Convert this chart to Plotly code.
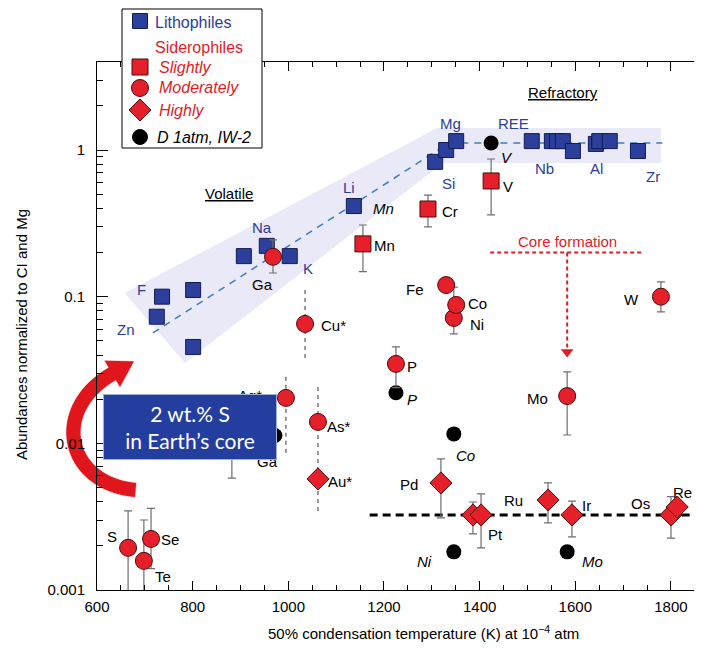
import numpy as np
import plotly.graph_objects as go

# ---------------- data ----------------
# Lithophiles (blue squares)
litho_T = [725, 736, 801, 801, 907, 955, 1003, 1137, 1307, 1330, 1351,
           1509, 1551, 1562, 1574, 1595, 1643, 1650, 1672, 1731]
litho_A = [0.073, 0.100, 0.111, 0.0454, 0.189, 0.222, 0.189, 0.415, 0.83, 1.0, 1.15,
           1.15, 1.15, 1.15, 1.15, 0.984, 1.10, 1.15, 1.15, 0.984]

# Slightly siderophile (red squares)
slight_names = ["Mn", "Cr", "V"]
slight_T = [1156, 1292, 1424]
slight_A = [0.229, 0.396, 0.615]
slight_hi = [0.308, 0.493, 0.868]
slight_lo = [0.148, 0.299, 0.361]

# Moderately siderophile (red circles)
mod_names = ["Hidden", "Ga", "Ag*", "Cu*", "As*", "S", "Se", "Te", "Fe", "Ni", "Co", "P", "Mo", "W"]
mod_T = [882, 968, 995, 1035, 1062, 665, 713, 698, 1330, 1346, 1351, 1225, 1583, 1779]
mod_A = [0.012, 0.187, 0.0204, 0.0652, 0.014, 0.00194, 0.00223, 0.00158, 0.120, 0.0716, 0.0878, 0.0348, 0.021, 0.100]
mod_hi = [0.018, 0.244, None, None, None, 0.00346, 0.0036, 0.0030, None, 0.116, None, 0.0454, 0.0307, 0.126]
mod_lo = [0.0058, 0.145, None, None, None, 0.0008, 0.0014, 0.0008, None, 0.0557, None, 0.024, 0.0114, 0.0787]

# Highly siderophile (red diamonds)
high_names = ["Au*", "Pd", "Pt", "Pt", "Ru", "Ir", "Os", "Re"]
high_T = [1062, 1319, 1386, 1403, 1543, 1593, 1800, 1813]
high_A = [0.00572, 0.00537, 0.00325, 0.00325, 0.00411, 0.00325, 0.00325, 0.00368]
high_hi = [None, 0.00783, 0.00398, 0.00452, 0.00537, 0.00404, 0.00433, None]
high_lo = [None, 0.0031, 0.00241, 0.00194, 0.00287, 0.0023, 0.00226, None]

# D 1atm, IW-2 (black circles)
d_names = ["V", "P", "Co", "Ni", "Mo", "Ga"]
d_T = [1424, 1225, 1346, 1346, 1583, 972]
d_A = [1.116, 0.0221, 0.0116, 0.00182, 0.00182, 0.0113]

# dashed ranges (Ag*, Cu*, As*/Au*)
range_T = [995, 1035, 1062]
range_hi = [0.0284, 0.111, 0.0242]
range_lo = [0.0086, 0.037, 0.0034]

# volatility trend (blue dashed) and shaded band
trend_T = [717, 1336, 1782]
trend_A = [0.0566, 1.116, 1.116]
band_T = [658, 1311, 1779, 1779, 1323, 784]
band_A = [0.106, 1.413, 1.413, 0.815, 0.815, 0.0353]

# HSE level (black dashed)
hse_T = [1170, 1850]
hse_A = [0.00325, 0.00325]

# core formation arrow
core_T = [1422, 1741]
core_A = [0.2, 0.2]
core_v_T = [1583, 1583]
core_v_A = [0.2, 0.040]
core_tip_A = [0.042]

# label texts: (text, T, A, dx px, dy px, colour key)
labels = [
    ("Zn", 725, 0.073, -31, 13, "b"), ("F", 736, 0.100, -21, -7, "b"),
    ("Na", 955, 0.222, -5, -18, "b"), ("K", 1003, 0.189, 18, 12, "b"),
    ("Li", 1137, 0.415, -5, -19, "b"), ("Si", 1307, 0.83, 13, 22, "b"),
    ("Mg", 1351, 1.15, -6, -18, "b"), ("REE", 1424, 1.116, 22, -20, "b"),
    ("Nb", 1574, 1.15, -18, 27, "b"), ("Al", 1643, 1.10, 1, 25, "b"),
    ("Zr", 1731, 0.984, 15, 25, "b"),
    ("Ga", 968, 0.187, -11, 28, "k"), ("Mn", 1156, 0.229, 22, 2, "k"),
    ("Cr", 1292, 0.396, 22, 2, "k"), ("V", 1424, 0.615, 17, 6, "k"),
    ("<i>V</i>", 1424, 1.116, 16, 14, "k"), ("<i>Mn</i>", 1137, 0.415, 30, 2, "k"),
    ("Cu*", 1035, 0.0652, 28, 2, "k"), ("Fe", 1330, 0.120, -31, 4, "k"),
    ("Co", 1351, 0.0878, 21, -1, "k"), ("Ni", 1346, 0.0716, 23, 7, "k"),
    ("W", 1779, 0.100, -29, 3, "k"), ("P", 1225, 0.0348, 16, 3, "k"),
    ("<i>P</i>", 1225, 0.0221, 16, 7, "k"), ("Mo", 1583, 0.021, -30, 2, "k"),
    ("<i>Co</i>", 1346, 0.0116, 12, 22, "k"), ("<i>Ni</i>", 1346, 0.00182, -29, 10, "k"),
    ("<i>Mo</i>", 1583, 0.00182, 25, 10, "k"), ("Pd", 1319, 0.00537, -32, 2, "k"),
    ("Pt", 1403, 0.00325, 14, 20, "k"), ("Ru", 1543, 0.00411, -35, 1, "k"),
    ("Ir", 1593, 0.00325, 15, -9, "k"), ("Os", 1800, 0.00325, -30, -11, "k"),
    ("Re", 1813, 0.00368, 5, -15, "k"), ("As*", 1062, 0.014, 21, 5, "k"),
    ("Au*", 1062, 0.00572, 22, 3, "k"), ("S", 665, 0.00194, -16, -11, "k"),
    ("Se", 713, 0.00223, 19, 1, "k"), ("Te", 698, 0.00158, 19, 16, "k"),
    ("Ga", 972, 0.0113, -7, 26, "k"), ("Ag*", 995, 0.0204, -36, -2, "k"),
]

x_ticks = [600, 800, 1000, 1200, 1400, 1600, 1800]
y_ticks = [0.001, 0.01, 0.1, 1]
y_tick_text = ["0.001", "0.01", "0.1", "1"]

# ---------------- styling ----------------
FONT = "Liberation Sans, Arial, Helvetica, sans-serif"
BLUE = "#2c3f9d"
BLUE_EDGE = "#141c4e"
BLUE_TXT = "#2a3d9a"
RED = "#e5202a"
RED_EDGE = "#4a0c0c"
RED_TXT = "#e31b23"
ERR = "#6e6e6e"

# the page has an 8px body margin on every side: keep the figure inside the window
OFF = 8
W, H = 702 - 2 * OFF, 655 - 2 * OFF - 3
REF_L, REF_T, REF_B, REF_R = 97, 62, 590, 702 - OFF   # plot area in window pixels
L, T_ = REF_L - OFF, REF_T - OFF
B = H - (REF_B - OFF)
R = W - (REF_R - OFF)
PW, PH = REF_R - REF_L, REF_B - REF_T


def pp(px, py):
    """window pixel -> paper fraction"""
    return (px - REF_L) / PW, (REF_B - py) / PH


def errs(A, hi, lo):
    plus = [(h - a) if h is not None else 0 for a, h in zip(A, hi)]
    minus = [(a - l) if l is not None else 0 for a, l in zip(A, lo)]
    return plus, minus


fig = go.Figure()

# shaded band
fig.add_trace(go.Scatter(x=band_T, y=band_A, mode="lines", fill="toself",
                         fillcolor="rgba(226,226,246,0.75)", line=dict(width=0),
                         hoverinfo="skip"))
# trend line
fig.add_trace(go.Scatter(x=trend_T, y=trend_A, mode="lines",
                         line=dict(color="#3d7cc4", width=1.5, dash="7px,6px")))
# dashed ranges
rx, ry = [], []
for t, h, l in zip(range_T, range_hi, range_lo):
    rx += [t, t, None]
    ry += [h, l, None]
fig.add_trace(go.Scatter(x=rx, y=ry, mode="lines",
                         line=dict(color="#555", width=1.2, dash="4px,4px")))
# HSE dashed
fig.add_trace(go.Scatter(x=hse_T, y=hse_A, mode="lines",
                         line=dict(color="black", width=3, dash="8px,5px")))
# core formation
fig.add_trace(go.Scatter(x=core_T, y=core_A, mode="lines",
                         line=dict(color=RED_TXT, width=2, dash="4px,3px")))
fig.add_trace(go.Scatter(x=core_v_T, y=core_v_A, mode="lines",
                         line=dict(color=RED_TXT, width=2, dash="4px,3px")))
fig.add_trace(go.Scatter(x=core_v_T[:1], y=core_tip_A, mode="markers",
                         marker=dict(symbol="triangle-down", size=11, color=RED_TXT)))

# lithophiles
fig.add_trace(go.Scatter(x=litho_T, y=litho_A, mode="markers",
                         marker=dict(symbol="square", size=15, color=BLUE,
                                     line=dict(color=BLUE_EDGE, width=1))))
# black D points
fig.add_trace(go.Scatter(x=d_T, y=d_A, mode="markers",
                         marker=dict(symbol="circle", size=15, color="black")))
# slightly
p, m = errs(slight_A, slight_hi, slight_lo)
fig.add_trace(go.Scatter(x=slight_T, y=slight_A, mode="markers",
                         error_y=dict(type="data", symmetric=False, array=p, arrayminus=m,
                                      color=ERR, thickness=1.2, width=4),
                         marker=dict(symbol="square", size=16, color=RED,
                                     line=dict(color=RED_EDGE, width=1))))
# moderately
p, m = errs(mod_A, mod_hi, mod_lo)
fig.add_trace(go.Scatter(x=mod_T, y=mod_A, mode="markers",
                         error_y=dict(type="data", symmetric=False, array=p, arrayminus=m,
                                      color=ERR, thickness=1.2, width=4),
                         marker=dict(symbol="circle", size=17, color=RED,
                                     line=dict(color=RED_EDGE, width=1))))
# highly
p, m = errs(high_A, high_hi, high_lo)
fig.add_trace(go.Scatter(x=high_T, y=high_A, mode="markers",
                         error_y=dict(type="data", symmetric=False, array=p, arrayminus=m,
                                      color=ERR, thickness=1.2, width=4),
                         marker=dict(symbol="diamond", size=17, color=RED,
                                     line=dict(color=RED_EDGE, width=1))))

annotations = []
for txt, t, a, dx, dy, c in labels:
    annotations.append(dict(x=t, y=np.log10(a), xref="x", yref="y", text=txt,
                            showarrow=False, xshift=dx, yshift=-dy,
                            xanchor="center", yanchor="middle",
                            font=dict(family=FONT, size=15,
                                      color=BLUE_TXT if c == "b" else "black")))

# section labels
for txt, t, a, col in [("<u>Volatile</u>", 876, 0.509, "black"),
                       ("<u>Refractory</u>", 1574, 2.45, "black"),
                       ("Core formation", 1583, 0.236, RED_TXT)]:
    annotations.append(dict(x=t, y=np.log10(a), xref="x", yref="y", text=txt,
                            showarrow=False, xanchor="center", yanchor="middle",
                            font=dict(family=FONT, size=15, color=col)))

# axis titles
x0, y0 = pp(423, 632)
annotations.append(dict(x=x0, y=y0, xref="paper", yref="paper", showarrow=False,
                        xanchor="center", yanchor="middle",
                        text="50% condensation temperature (K) at 10<sup>−4</sup> atm",
                        font=dict(family=FONT, size=15, color="black")))
x0, y0 = pp(21, 335)
annotations.append(dict(x=x0, y=y0, xref="paper", yref="paper", showarrow=False, textangle=-90,
                        xanchor="center", yanchor="middle",
                        text="Abundances normalized to CI and Mg",
                        font=dict(family=FONT, size=15, color="black")))

# blue box
x0, y0 = pp(190, 427)
annotations.append(dict(x=x0, y=y0, xref="paper", yref="paper", showarrow=False,
                        xanchor="center", yanchor="middle",
                        text="2 wt.% S<br>in Earth’s core", align="center",
                        width=172, height=64, bgcolor="#233e9f", bordercolor="#9fb0d8",
                        borderwidth=1, borderpad=0,
                        font=dict(family="Lato, Open Sans, sans-serif", size=21, color="white")))

# legend texts
leg_items = [
    ("Lithophiles", 153, 22, BLUE_TXT, False),
    ("Siderophiles", 153, 47, RED_TXT, False),
    ("Slightly", 157, 67, RED_TXT, True),
    ("Moderately", 157, 88, RED_TXT, True),
    ("Highly", 157, 110, RED_TXT, True),
    ("D 1atm, IW-2", 155, 137, "black", True),
]
for txt, px, py, col, it in leg_items:
    x0, y0 = pp(px, py)
    annotations.append(dict(x=x0, y=y0, xref="paper", yref="paper", showarrow=False,
                            xanchor="left", yanchor="middle",
                            text=f"<i>{txt}</i>" if it else txt,
                            font=dict(family=FONT, size=16, color=col)))

shapes = []
# legend box
ax0, ay0 = pp(122, 148)
ax1, ay1 = pp(262, 9)
shapes.append(dict(type="rect", xref="paper", yref="paper", x0=ax0, y0=ay0, x1=ax1, y1=ay1,
                   fillcolor="white", line=dict(color="black", width=1), layer="above"))


def rect_px(cx, cy, s, fill, edge):
    a = pp(cx - s / 2, cy + s / 2)
    b = pp(cx + s / 2, cy - s / 2)
    return dict(type="rect", xref="paper", yref="paper", x0=a[0], y0=a[1], x1=b[0], y1=b[1],
                fillcolor=fill, line=dict(color=edge, width=1), layer="above")


def circ_px(cx, cy, d, fill, edge):
    a = pp(cx - d / 2, cy + d / 2)
    b = pp(cx + d / 2, cy - d / 2)
    return dict(type="circle", xref="paper", yref="paper", x0=a[0], y0=a[1], x1=b[0], y1=b[1],
                fillcolor=fill, line=dict(color=edge, width=1), layer="above")


def path_from_px(pts):
    s = ""
    for i, (px, py) in enumerate(pts):
        x, y = pp(px, py)
        s += ("M" if i == 0 else "L") + f"{x:.5f},{y:.5f} "
    return s + "Z"


shapes.append(rect_px(140, 21, 15, BLUE, BLUE_EDGE))
shapes.append(rect_px(140, 67, 16, RED, RED_EDGE))
shapes.append(circ_px(140, 88, 17, RED, RED_EDGE))
shapes.append(dict(type="path", xref="paper", yref="paper",
                   path=path_from_px([(140, 99), (151, 110), (140, 121), (129, 110)]),
                   fillcolor=RED, line=dict(color=RED_EDGE, width=1), layer="above"))
shapes.append(circ_px(140, 137, 15, "black", "black"))

# curved red arrow (decoration)
P0, P1, P2, P3 = map(np.array, [(136, 490), (66, 484), (50, 410), (112, 374)])
ts = np.linspace(0, 1, 40)
pts = [((1 - t) ** 3) * P0 + 3 * ((1 - t) ** 2) * t * P1 + 3 * (1 - t) * t * t * P2 + (t ** 3) * P3 for t in ts]
der = [3 * ((1 - t) ** 2) * (P1 - P0) + 6 * (1 - t) * t * (P2 - P1) + 3 * t * t * (P3 - P2) for t in ts]
hw = 7.5
left, right = [], []
for pnt, d in zip(pts, der):
    d = d / np.linalg.norm(d)
    n = np.array([-d[1], d[0]])
    left.append(pnt + n * hw)
    right.append(pnt - n * hw)
dE = der[-1] / np.linalg.norm(der[-1])
nE = np.array([-dE[1], dE[0]])
tip = P3 + dE * 26
headA = P3 + nE * 16
headB = P3 - nE * 16
arrow_pts = left + [headA, tip, headB] + right[::-1]
shapes.append(dict(type="path", xref="paper", yref="paper",
                   path=path_from_px([tuple(p) for p in arrow_pts]),
                   fillcolor="#e0161d", line=dict(color="rgba(255,255,255,0.6)", width=1),
                   layer="below"))

minor_y = [k * 10.0 ** e for e in (-3, -2, -1, 0) for k in range(2, 10) if k * 10.0 ** e < 10 ** 0.6]

fig.update_layout(
    width=W, height=H,
    margin=dict(l=L, r=R, t=T_, b=B, autoexpand=False),
    paper_bgcolor="white", plot_bgcolor="rgba(0,0,0,0)",
    showlegend=False,
    font=dict(family=FONT, size=15, color="black"),
    annotations=annotations,
    shapes=shapes,
    xaxis=dict(range=[600, 600 + PW / 0.4783], tickvals=x_ticks, ticks="inside", ticklen=9,
               tickcolor="black", showline=True, linecolor="black", linewidth=1,
               mirror="ticks", showgrid=False, zeroline=False,
               tickfont=dict(family=FONT, size=15), ticklabelstandoff=3,
               minor=dict(dtick=50, tick0=600, ticks="inside", ticklen=5, tickcolor="black",
                          showgrid=False)),
    yaxis=dict(type="log", range=[-3, 0.6], tickvals=y_ticks, ticktext=y_tick_text,
               ticks="inside", ticklen=11, tickcolor="black", showline=True,
               linecolor="black", linewidth=1, showgrid=False, zeroline=False,
               tickfont=dict(family=FONT, size=15), ticklabelstandoff=8,
               minor=dict(tickmode="array", tickvals=minor_y, ticks="inside", ticklen=6,
                          tickcolor="black", showgrid=False)),
)

fig.write_html("out.html")
